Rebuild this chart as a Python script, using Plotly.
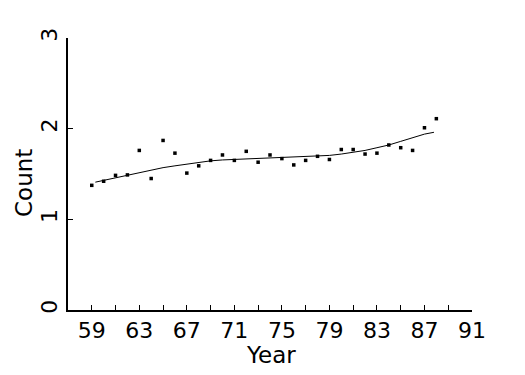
import plotly.graph_objects as go

years = list(range(59, 89))
counts = [1.375, 1.42, 1.485, 1.49, 1.76, 1.45, 1.87, 1.73, 1.51, 1.59,
          1.65, 1.71, 1.65, 1.75, 1.63, 1.71, 1.67, 1.60, 1.65, 1.695,
          1.66, 1.77, 1.77, 1.72, 1.73, 1.82, 1.79, 1.76, 2.01, 2.11]

fit_years = [59.3, 60, 61, 62, 63, 64, 65, 66, 67, 68, 69, 70, 71, 72, 73, 74,
             75, 76, 77, 78, 79, 80, 81, 82, 83, 84, 85, 86, 87, 87.8]
fit_vals = [1.41, 1.43, 1.46, 1.48, 1.51, 1.54, 1.57, 1.59, 1.61, 1.63, 1.645,
            1.655, 1.66, 1.665, 1.67, 1.675, 1.68, 1.685, 1.69, 1.70, 1.705,
            1.72, 1.74, 1.76, 1.79, 1.82, 1.86, 1.90, 1.94, 1.96]

x_ticks = list(range(59, 92, 2))
x_labels = [str(v) if (v - 59) % 4 == 0 else "" for v in x_ticks]
y_ticks = [0, 1, 2, 3]

FONT = "DejaVu Sans"

fig = go.Figure()
fig.add_trace(go.Scatter(x=fit_years, y=fit_vals, mode="lines",
                         line=dict(color="black", width=1), hoverinfo="skip"))
fig.add_trace(go.Scatter(x=years, y=counts, mode="markers",
                         marker=dict(symbol="square", size=3.5, color="black",
                                     line=dict(width=0))))

fig.update_layout(
    width=525, height=375,
    margin=dict(l=68, r=53, t=38, b=65),
    paper_bgcolor="white", plot_bgcolor="white",
    showlegend=False,
    font=dict(family=FONT, color="black", size=22),
    xaxis=dict(range=[57, 91], tickvals=x_ticks, ticktext=x_labels,
               showgrid=False, zeroline=False, showline=True, linecolor="black",
               linewidth=2, ticks="inside", ticklen=5, tickwidth=1,
               tickcolor="black", tickfont=dict(size=22, family=FONT)),
    yaxis=dict(range=[0, 3], tickvals=y_ticks, ticktext=[str(v) for v in y_ticks],
               showgrid=False, zeroline=False, showline=True, linecolor="black",
               linewidth=2, ticks="inside", ticklen=5, tickwidth=1,
               tickcolor="black", tickangle=-90, tickfont=dict(size=22, family=FONT)),
    annotations=[
        dict(text="Year", x=271, y=375 - 355, xref="paper", yref="paper",
             showarrow=False, font=dict(size=23, family=FONT)),
        dict(text="Count", x=24, y=375 - 183, xref="paper", yref="paper",
             showarrow=False, textangle=-90, font=dict(size=23, family=FONT)),
    ],
)
# convert pixel annotation positions to paper coords
pw, ph = 525 - 68 - 53, 375 - 38 - 65
for a in fig.layout.annotations:
    a.x = (a.x - 68) / pw
    a.y = (a.y - 65) / ph
    a.xanchor = "center"
    a.yanchor = "middle"

fig.write_html("out.html")
